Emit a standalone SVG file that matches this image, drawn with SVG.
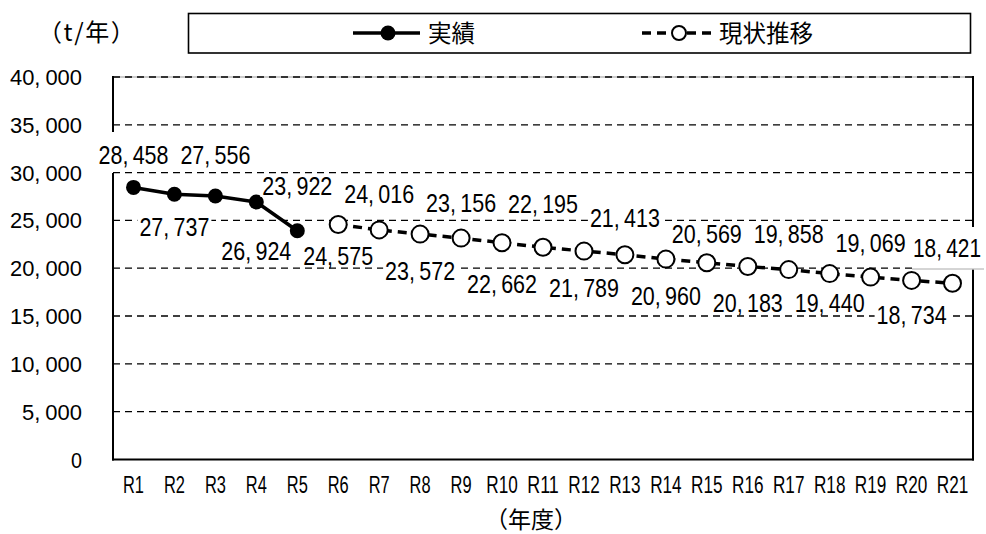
<svg xmlns="http://www.w3.org/2000/svg" width="986" height="534" viewBox="0 0 986 534">
<style>
.grid{stroke:#000;stroke-width:1.3;stroke-dasharray:7 5;fill:none}
.axis{stroke:#000;stroke-width:2;fill:none}
.num{font-family:"Liberation Sans",Arial,sans-serif;font-size:25px;fill:#000;text-anchor:middle}
.ytick{font-family:"Liberation Sans",Arial,sans-serif;font-size:22px;fill:#000;text-anchor:end}
.xtick{font-family:"Liberation Sans",Arial,sans-serif;font-size:23px;fill:#000;text-anchor:middle}
.jp{font-family:"Noto Sans CJK JP",sans-serif;fill:#000}
.act{stroke:#000;stroke-width:3.5;fill:none;stroke-linejoin:round}
.proj{stroke:#000;stroke-width:3.5;stroke-dasharray:9 6;fill:none}
.dot{fill:#000}
.ring{fill:#fff;stroke:#000;stroke-width:2}
.lbg{fill:#fff}
</style>
<rect width="986" height="534" fill="#fff"/>

<g id="legend">
  <rect x="188.5" y="13.5" width="782" height="39.5" fill="#fff" stroke="#000" stroke-width="1.6"/>
  <line x1="353" y1="33" x2="420" y2="33" class="act"/>
  <circle cx="388" cy="33" r="7.5" class="dot"/>
  <text x="428" y="41.5" class="jp" font-size="23.5">実績</text>
  <line x1="642" y1="33" x2="717" y2="33" class="proj" stroke-dasharray="10 5"/>
  <circle cx="679" cy="33" r="7" class="ring"/>
  <text x="719" y="41.5" class="jp" font-size="23.5">現状推移</text>
</g>

<g id="unit-label">
  <text x="38" y="41" class="jp" font-size="24" letter-spacing="1.5">（t/年）</text>
</g>

<g id="plot-area">
  <line x1="113" y1="77" x2="973" y2="77" stroke="#999" stroke-width="1"/>
  <line x1="113" y1="77" x2="973" y2="77" class="grid"/>
  <line x1="113" y1="124.8" x2="973" y2="124.8" class="grid"/>
  <line x1="113" y1="172.6" x2="973" y2="172.6" class="grid"/>
  <line x1="113" y1="220.4" x2="973" y2="220.4" class="grid"/>
  <line x1="113" y1="268.2" x2="973" y2="268.2" class="grid"/>
  <line x1="113" y1="316" x2="973" y2="316" class="grid"/>
  <line x1="113" y1="363.8" x2="973" y2="363.8" class="grid"/>
  <line x1="113" y1="411.6" x2="973" y2="411.6" class="grid"/>
  <line x1="113" y1="76" x2="113" y2="132" class="axis"/>
  <line x1="113" y1="173" x2="113" y2="460.5" class="axis"/>
  <line x1="973" y1="76" x2="973" y2="460.5" class="axis"/>
  <line x1="112" y1="459.5" x2="974" y2="459.5" class="axis"/>
</g>

<g id="y-axis-labels">
  <text x="82" y="85" class="ytick" textLength="72" lengthAdjust="spacingAndGlyphs">40,<tspan dx="5">000</tspan></text>
  <text x="82" y="132.8" class="ytick" textLength="72" lengthAdjust="spacingAndGlyphs">35,<tspan dx="5">000</tspan></text>
  <text x="82" y="180.6" class="ytick" textLength="72" lengthAdjust="spacingAndGlyphs">30,<tspan dx="5">000</tspan></text>
  <text x="82" y="228.4" class="ytick" textLength="72" lengthAdjust="spacingAndGlyphs">25,<tspan dx="5">000</tspan></text>
  <text x="82" y="276.2" class="ytick" textLength="72" lengthAdjust="spacingAndGlyphs">20,<tspan dx="5">000</tspan></text>
  <text x="82" y="324" class="ytick" textLength="72" lengthAdjust="spacingAndGlyphs">15,<tspan dx="5">000</tspan></text>
  <text x="82" y="371.8" class="ytick" textLength="72" lengthAdjust="spacingAndGlyphs">10,<tspan dx="5">000</tspan></text>
  <text x="82" y="419.6" class="ytick" textLength="60" lengthAdjust="spacingAndGlyphs">5,<tspan dx="5">000</tspan></text>
  <text x="82" y="467.5" class="ytick" textLength="11" lengthAdjust="spacingAndGlyphs">0</text>
</g>

<g id="x-axis-labels">
  <text x="133.5" y="493.2" class="xtick" textLength="21" lengthAdjust="spacingAndGlyphs">R1</text>
  <text x="174.4" y="493.2" class="xtick" textLength="21" lengthAdjust="spacingAndGlyphs">R2</text>
  <text x="215.4" y="493.2" class="xtick" textLength="21" lengthAdjust="spacingAndGlyphs">R3</text>
  <text x="256.3" y="493.2" class="xtick" textLength="21" lengthAdjust="spacingAndGlyphs">R4</text>
  <text x="297.3" y="493.2" class="xtick" textLength="21" lengthAdjust="spacingAndGlyphs">R5</text>
  <text x="338.2" y="493.2" class="xtick" textLength="21" lengthAdjust="spacingAndGlyphs">R6</text>
  <text x="379.2" y="493.2" class="xtick" textLength="21" lengthAdjust="spacingAndGlyphs">R7</text>
  <text x="420.1" y="493.2" class="xtick" textLength="21" lengthAdjust="spacingAndGlyphs">R8</text>
  <text x="461.1" y="493.2" class="xtick" textLength="21" lengthAdjust="spacingAndGlyphs">R9</text>
  <text x="502" y="493.2" class="xtick" textLength="31.5" lengthAdjust="spacingAndGlyphs">R10</text>
  <text x="543" y="493.2" class="xtick" textLength="31.5" lengthAdjust="spacingAndGlyphs">R11</text>
  <text x="584" y="493.2" class="xtick" textLength="31.5" lengthAdjust="spacingAndGlyphs">R12</text>
  <text x="624.9" y="493.2" class="xtick" textLength="31.5" lengthAdjust="spacingAndGlyphs">R13</text>
  <text x="665.9" y="493.2" class="xtick" textLength="31.5" lengthAdjust="spacingAndGlyphs">R14</text>
  <text x="706.8" y="493.2" class="xtick" textLength="31.5" lengthAdjust="spacingAndGlyphs">R15</text>
  <text x="747.8" y="493.2" class="xtick" textLength="31.5" lengthAdjust="spacingAndGlyphs">R16</text>
  <text x="788.7" y="493.2" class="xtick" textLength="31.5" lengthAdjust="spacingAndGlyphs">R17</text>
  <text x="829.7" y="493.2" class="xtick" textLength="31.5" lengthAdjust="spacingAndGlyphs">R18</text>
  <text x="870.6" y="493.2" class="xtick" textLength="31.5" lengthAdjust="spacingAndGlyphs">R19</text>
  <text x="911.6" y="493.2" class="xtick" textLength="31.5" lengthAdjust="spacingAndGlyphs">R20</text>
  <text x="952.5" y="493.2" class="xtick" textLength="31.5" lengthAdjust="spacingAndGlyphs">R21</text>
  <text x="531" y="528" class="jp" font-size="23" text-anchor="middle">（年度）</text>
</g>

<g id="connectors">
  <polyline class="act" points="133.5,187.4 174.4,194.3 215.4,196 256.3,202 297.3,230.7"/>
  <polyline class="proj" points="338.2,224.5 379.2,229.9 420.1,234.1 461.1,238.1 502,242.8 543,247.3 584,251.1 624.9,254.7 665.9,259.1 706.8,262.8 747.8,266.5 788.7,269.6 829.7,273.6 870.6,277.1 911.6,280.4 952.5,283.3"/>
</g>

<g id="series-actual">
  <circle cx="133.5" cy="187.4" r="7.5" class="dot"/>
  <circle cx="174.4" cy="194.3" r="7.5" class="dot"/>
  <circle cx="215.4" cy="196" r="7.5" class="dot"/>
  <circle cx="256.3" cy="202" r="7.5" class="dot"/>
  <circle cx="297.3" cy="230.7" r="7.5" class="dot"/>
</g>

<g id="series-projection">
  <circle cx="338.2" cy="224.5" r="8.5" class="ring"/>
  <circle cx="379.2" cy="229.9" r="8.5" class="ring"/>
  <circle cx="420.1" cy="234.1" r="8.5" class="ring"/>
  <circle cx="461.1" cy="238.1" r="8.5" class="ring"/>
  <circle cx="502" cy="242.8" r="8.5" class="ring"/>
  <circle cx="543" cy="247.3" r="8.5" class="ring"/>
  <circle cx="584" cy="251.1" r="8.5" class="ring"/>
  <circle cx="624.9" cy="254.7" r="8.5" class="ring"/>
  <circle cx="665.9" cy="259.1" r="8.5" class="ring"/>
  <circle cx="706.8" cy="262.8" r="8.5" class="ring"/>
  <circle cx="747.8" cy="266.5" r="8.5" class="ring"/>
  <circle cx="788.7" cy="269.6" r="8.5" class="ring"/>
  <circle cx="829.7" cy="273.6" r="8.5" class="ring"/>
  <circle cx="870.6" cy="277.1" r="8.5" class="ring"/>
  <circle cx="911.6" cy="280.4" r="8.5" class="ring"/>
  <circle cx="952.5" cy="283.3" r="8.5" class="ring"/>
</g>

<g id="data-labels">
  <rect class="lbg" x="96.5" y="144" width="74" height="22"/><text x="133.5" y="164.1" class="num" textLength="70" lengthAdjust="spacingAndGlyphs">28,<tspan dx="5">458</tspan></text>
  <rect class="lbg" x="137.4" y="216" width="74" height="22"/><text x="174.4" y="236.1" class="num" textLength="70" lengthAdjust="spacingAndGlyphs">27,<tspan dx="5">737</tspan></text>
  <rect class="lbg" x="178.4" y="144" width="74" height="22"/><text x="215.4" y="164.1" class="num" textLength="70" lengthAdjust="spacingAndGlyphs">27,<tspan dx="5">556</tspan></text>
  <rect class="lbg" x="219.3" y="240" width="74" height="22"/><text x="256.3" y="260.1" class="num" textLength="70" lengthAdjust="spacingAndGlyphs">26,<tspan dx="5">924</tspan></text>
  <rect class="lbg" x="260.3" y="175" width="74" height="22"/><text x="297.3" y="195.1" class="num" textLength="70" lengthAdjust="spacingAndGlyphs">23,<tspan dx="5">922</tspan></text>
  <rect class="lbg" x="301.2" y="245" width="74" height="22"/><text x="338.2" y="265.1" class="num" textLength="70" lengthAdjust="spacingAndGlyphs">24,<tspan dx="5">575</tspan></text>
  <rect class="lbg" x="342.2" y="183" width="74" height="22"/><text x="379.2" y="203.1" class="num" textLength="70" lengthAdjust="spacingAndGlyphs">24,<tspan dx="5">016</tspan></text>
  <rect class="lbg" x="383.1" y="260" width="74" height="22"/><text x="420.1" y="280.1" class="num" textLength="70" lengthAdjust="spacingAndGlyphs">23,<tspan dx="5">572</tspan></text>
  <rect class="lbg" x="424.1" y="192" width="74" height="22"/><text x="461.1" y="212.1" class="num" textLength="70" lengthAdjust="spacingAndGlyphs">23,<tspan dx="5">156</tspan></text>
  <rect class="lbg" x="465" y="273" width="74" height="22"/><text x="502" y="293.1" class="num" textLength="70" lengthAdjust="spacingAndGlyphs">22,<tspan dx="5">662</tspan></text>
  <rect class="lbg" x="506" y="193" width="74" height="22"/><text x="543" y="213.1" class="num" textLength="70" lengthAdjust="spacingAndGlyphs">22,<tspan dx="5">195</tspan></text>
  <rect class="lbg" x="547" y="277" width="74" height="22"/><text x="584" y="297.1" class="num" textLength="70" lengthAdjust="spacingAndGlyphs">21,<tspan dx="5">789</tspan></text>
  <rect class="lbg" x="587.9" y="207" width="74" height="22"/><text x="624.9" y="227.1" class="num" textLength="70" lengthAdjust="spacingAndGlyphs">21,<tspan dx="5">413</tspan></text>
  <rect class="lbg" x="628.9" y="285" width="74" height="22"/><text x="665.9" y="305.1" class="num" textLength="70" lengthAdjust="spacingAndGlyphs">20,<tspan dx="5">960</tspan></text>
  <rect class="lbg" x="669.8" y="223" width="74" height="22"/><text x="706.8" y="243.1" class="num" textLength="70" lengthAdjust="spacingAndGlyphs">20,<tspan dx="5">569</tspan></text>
  <rect class="lbg" x="710.8" y="292" width="74" height="22"/><text x="747.8" y="312.1" class="num" textLength="70" lengthAdjust="spacingAndGlyphs">20,<tspan dx="5">183</tspan></text>
  <rect class="lbg" x="751.7" y="223" width="74" height="22"/><text x="788.7" y="243.1" class="num" textLength="70" lengthAdjust="spacingAndGlyphs">19,<tspan dx="5">858</tspan></text>
  <rect class="lbg" x="792.7" y="292" width="74" height="22"/><text x="829.7" y="312.1" class="num" textLength="70" lengthAdjust="spacingAndGlyphs">19,<tspan dx="5">440</tspan></text>
  <rect class="lbg" x="833.6" y="232" width="74" height="22"/><text x="870.6" y="252.1" class="num" textLength="70" lengthAdjust="spacingAndGlyphs">19,<tspan dx="5">069</tspan></text>
  <rect class="lbg" x="874.6" y="304" width="74" height="22"/><text x="911.6" y="324.1" class="num" textLength="70" lengthAdjust="spacingAndGlyphs">18,<tspan dx="5">734</tspan></text>
  <rect class="lbg" x="912" y="227" width="72" height="42.5"/><line x1="912" y1="269" x2="984" y2="269" stroke="#aaa" stroke-width="1"/><text x="947" y="257.1" class="num" textLength="68" lengthAdjust="spacingAndGlyphs">18,<tspan dx="5">421</tspan></text>
</g>
</svg>
